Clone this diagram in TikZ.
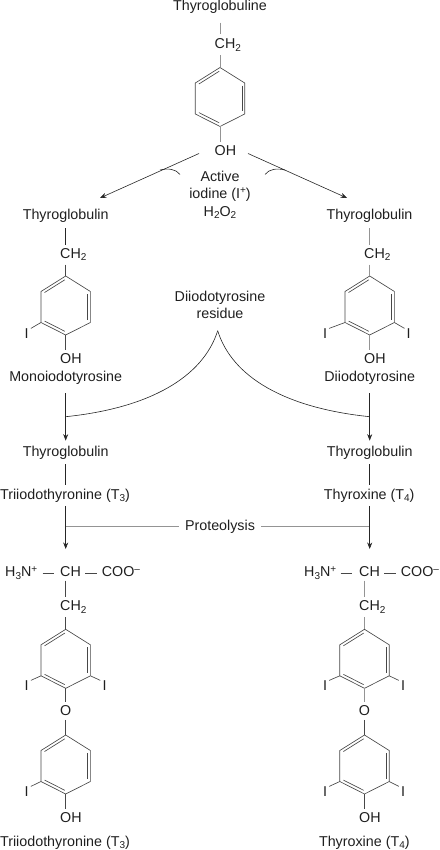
\documentclass[tikz,border=0pt]{standalone}
\usepackage{fontspec}
\setmainfont{Liberation Sans}
\usetikzlibrary{arrows.meta,calc}
\newcommand{\sbs}[1]{\raisebox{-2.6pt}{\fontsize{10}{10}\selectfont #1}}
\newcommand{\sps}[1]{\raisebox{4.6pt}{\fontsize{10}{10}\selectfont #1}}
\newcommand{\benzene}[3]{%
  \coordinate (#1-c) at (#2,#3+29.5);
  \coordinate (#1-t) at (#2,#3);
  \coordinate (#1-ur) at (#2+24.7,#3+15.5);
  \coordinate (#1-lr) at (#2+24.7,#3+46.5);
  \coordinate (#1-b) at (#2,#3+59);
  \coordinate (#1-ll) at (#2-24.7,#3+46.5);
  \coordinate (#1-ul) at (#2-24.7,#3+15.5);
  \draw[bond] (#1-t) -- (#1-ur) -- (#1-lr) -- (#1-b) -- (#1-ll) -- (#1-ul) -- cycle;
  \draw[bond,shorten <=1pt,shorten >=1pt] ($(#1-c)!0.89!(#1-t)$) -- ($(#1-c)!0.89!(#1-ul)$);
  \draw[bond,shorten <=1pt,shorten >=1pt] ($(#1-c)!0.89!(#1-ur)$) -- ($(#1-c)!0.89!(#1-lr)$);
  \draw[bond,shorten <=1pt,shorten >=1pt] ($(#1-c)!0.89!(#1-ll)$) -- ($(#1-c)!0.89!(#1-b)$);
}
\tikzset{
  bond/.style={draw=black!72,line width=0.65pt},
  rule/.style={draw=black!42,line width=0.9pt},
  flow/.style={draw=black!85,line width=0.6pt},
  tip/.style={flow,-{Stealth[length=6.5pt,width=5pt]}},
  lab/.style={text=black!88,inner xsep=0pt,inner ysep=3.5pt,font=\fontsize{14.3}{16}\selectfont,anchor=base},
  lableft/.style={lab,anchor=base west},
  iod/.style={lab,inner xsep=2pt,inner ysep=0.5pt,anchor=center}
}
\begin{document}
\begin{tikzpicture}[x=1pt,y=-1pt]
\useasboundingbox (0,0) rectangle (439,850);
% top tyrosine
\node[lab] (tg0) at (220,11) {Thyroglobuline};
\node[lableft] (ch0) at (214.5,49) {CH\sbs{2}};
\node[lableft] (oh0) at (214.5,155.7) {OH};
\benzene{r0}{220}{67.5}
\draw[rule] (tg0.south -| r0-t) ++(0,5) -- ($(ch0.north -| r0-t)+(0,-1)$);
\draw[rule] (ch0.south -| r0-t) -- (r0-t);
\draw[rule] (r0-b) -- (oh0.north -| r0-b);
% oxidation
\node[lab] (act) at (220,181.7) {Active};
\node[lab] (iodn) at (220,198.3) {iodine (I\sps{+})};
\node[lab] (hp) at (220,216) {H\sbs{2}O\sbs{2}};
\node[lab] (tgl) at (65.7,219.5) {Thyroglobulin};
\node[lab] (tgr) at (369.5,219.5) {Thyroglobulin};
\coordinate (al) at (199,153.5);
\coordinate (ar) at (248,153.5);
\coordinate (bl) at (100,198);
\coordinate (br) at (347,198);
\draw[tip] (al) -- (bl);
\draw[tip] (ar) -- (br);
\coordinate (cl1) at (160,170);
\coordinate (cl2) at (180,174.5);
\coordinate (cr1) at (285,170);
\coordinate (cr2) at (265,174.5);
\draw[flow] (cl1) .. controls (168,168) and (176,169) .. (cl2);
\draw[flow] (cr2) .. controls (269,169) and (277,168) .. (cr1);
% second row
\node[lableft] (chl) at (60,258.3) {CH\sbs{2}};
\node[lableft] (chr) at (364,258.3) {CH\sbs{2}};
\benzene{rl}{65.7}{276}
\benzene{rr}{369.7}{276}
\node[iod] (il) at (26.7,334) {I};
\node[iod] (ir1) at (325,334) {I};
\node[iod] (ir2) at (408.7,334) {I};
\node[lableft] (ohl) at (60,363.3) {OH};
\node[lableft] (ohr) at (364,363.3) {OH};
\node[lab] (mono) at (65.7,381.7) {Monoiodotyrosine};
\node[lab] (dii) at (369.7,381.7) {Diiodotyrosine};
\draw[flow] (tgl.south -| rl-t) ++(0,2) -- (chl.north -| rl-t);
\draw[rule] (tgr.south -| rr-t) ++(0,2) -- (chr.north -| rr-t);
\draw[bond] (chl.south -| rl-t) -- (rl-t);
\draw[rule] (chr.south -| rr-t) -- (rr-t);
\draw[bond] (rl-ll) -- (il.north east);
\draw[bond] (rr-ll) -- (ir1.north east);
\draw[bond] (rr-lr) -- (ir2.north west);
\draw[bond] (rl-b) -- (ohl.north -| rl-b);
\draw[rule] (rr-b) -- (ohr.north -| rr-b);
% residue
\node[lab] (res1) at (220,301.7) {Diiodotyrosine};
\node[lab] (res2) at (220,318.3) {residue};
\coordinate (cusp) at (217.7,330.7);
\coordinate (jl) at (65.7,416.7);
\coordinate (jr) at (369.7,416.7);
\draw[flow] (jl) .. controls (150,408) and (203,377) .. (cusp);
\draw[flow] (jr) .. controls (285,408) and (232,377) .. (cusp);
\node[lab] (tgl2) at (65.7,456.7) {Thyroglobulin};
\node[lab] (tgr2) at (369.7,456.7) {Thyroglobulin};
\draw[tip,shorten <=5pt,shorten >=2pt] (mono.south) -- (tgl2.north);
\draw[tip,shorten <=5pt,shorten >=2pt] (dii.south) -- (tgr2.north);
\node[lab] (t3) at (65,499.3) {Triiodothyronine (T\sbs{3})};
\node[lab] (t4) at (369.2,499.3) {Thyroxine (T\sbs{4})};
\draw[flow] (tgl2.south) ++(0,1) -- (t3.north -| tgl2.south);
\draw[flow] (tgr2.south) ++(0,1) -- (t4.north -| tgr2.south);
% proteolysis
\node[lab,inner xsep=6pt] (pro) at (220,530) {Proteolysis};
\coordinate (pl) at (65.7,526.7);
\coordinate (pr) at (369.7,526.7);
\draw[rule] (pl) -- (pro.west |- pl);
\draw[rule] (pro.east |- pr) -- (pr);
% left product
\node[lableft] (hl) at (5,576.7) {H\sbs{3}N\sps{+}};
\node[lableft] (cl) at (60,576.7) {CH};
\node[lableft] (cool) at (101.7,576.7) {COO\sps{–}};
\coordinate (vl) at (65.7,549);
\draw[tip] (t3.south -| vl) -- (vl);
\draw[bond] (42.7,573.3) -- (54,573.3);
\draw[bond] (85,573.3) -- (96.7,573.3);
\node[lableft] (cl2n) at (60,610.7) {CH\sbs{2}};
\benzene{la}{65.7}{629.3}
\benzene{lb}{65.7}{735}
\draw[bond] (cl.south -| la-t) -- (cl2n.north -| la-t);
\draw[bond] (cl2n.south -| la-t) -- (la-t);
\node[iod] (li1) at (26.7,686) {I};
\node[iod] (li2) at (104.5,686) {I};
\node[iod] (li3) at (26.7,792) {I};
\node[lab,anchor=center] (ol) at (65.7,711) {O};
\node[lableft] (lo) at (60,822.7) {OH};
\node[lab] (lt3) at (65,846) {Triiodothyronine (T\sbs{3})};
\draw[bond] (la-ll) -- (li1.north east);
\draw[bond] (la-lr) -- (li2.north west);
\draw[bond] (lb-ll) -- (li3.north east);
\draw[bond] (la-b) -- (ol.north);
\draw[bond] (ol.south) -- (lb-t);
\draw[bond] (lb-b) -- (lo.north -| lb-b);
% right product
\node[lableft] (hr) at (304,576.7) {H\sbs{3}N\sps{+}};
\node[lableft] (cr) at (359,576.7) {CH};
\node[lableft] (coor) at (400.7,576.7) {COO\sps{–}};
\coordinate (vr) at (369.7,549);
\draw[tip] (t4.south -| vr) -- (vr);
\draw[bond] (340.7,573.3) -- (352.3,573.3);
\draw[bond] (384,573.3) -- (395.7,573.3);
\node[lableft] (cr2n) at (359,610.7) {CH\sbs{2}};
\benzene{ra}{364.5}{629.3}
\benzene{rb}{364.5}{735}
\draw[rule] (cr.south -| ra-t) -- (cr2n.north -| ra-t);
\draw[rule] (cr2n.south -| ra-t) -- (ra-t);
\node[iod] (ri1) at (325,686) {I};
\node[iod] (ri2) at (403,686) {I};
\node[iod] (ri3) at (325,792) {I};
\node[iod] (ri4) at (403,792) {I};
\node[lab,anchor=center] (or) at (364.5,711) {O};
\node[lableft] (ro) at (359,822.7) {OH};
\node[lab] (rt4) at (364.3,846) {Thyroxine (T\sbs{4})};
\draw[bond] (ra-ll) -- (ri1.north east);
\draw[bond] (ra-lr) -- (ri2.north west);
\draw[bond] (rb-ll) -- (ri3.north east);
\draw[bond] (rb-lr) -- (ri4.north west);
\draw[rule] (ra-b) -- (or.north);
\draw[bond] (or.south) -- (rb-t);
\draw[bond] (rb-b) -- (ro.north -| rb-b);
\end{tikzpicture}
\end{document}
